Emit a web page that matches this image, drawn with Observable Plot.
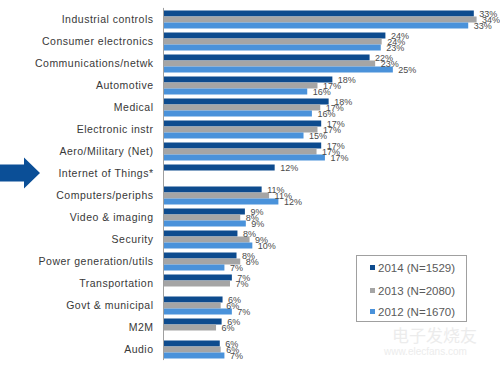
<!DOCTYPE html>
<html>
<head>
<meta charset="utf-8">
<script src="https://cdn.jsdelivr.net/npm/d3@7"></script>
<script src="https://cdn.jsdelivr.net/npm/@observablehq/plot@0.6"></script>
<style>
  html, body { margin: 0; padding: 0; background: #fff; }
  #wrap { position: relative; width: 500px; height: 366px; overflow: hidden; }
  #legend { position: absolute; left: 356px; top: 255px; width: 111px; height: 67px;
            border: 1px solid #a0a0a0; box-sizing: border-box; background: #fff;
            font-family: "Liberation Sans", Arial, sans-serif; font-size: 11.5px; color: #5a5a5a; }
  .item { position: absolute; left: 13px; white-space: nowrap; line-height: 12px; }
  .sw { display: inline-block; width: 5px; height: 5px; margin-right: 3px; vertical-align: 2px; }
  .wm { position: absolute; font-family: "Liberation Sans", Arial, sans-serif; color: #ececec; white-space: nowrap; }
</style>
</head>
<body>
<div id="wrap"></div>
<script>
const categories = ["Industrial controls","Consumer electronics","Communications/netwk","Automotive","Medical","Electronic instr","Aero/Military (Net)","Internet of Things*","Computers/periphs","Video & imaging","Security","Power generation/utils","Transportation","Govt & municipal","M2M","Audio"];
const years = ["2014","2013","2012"];
const yearLabels = ["2014 (N=1529)","2013 (N=2080)","2012 (N=1670)"];
const colors = ["#0d4b8e","#a5a5a5","#4a92da"];
const v2014 = [33.4,23.9,22.2,18.2,17.8,17.0,17.0,12.0,10.6,8.8,8.0,7.9,7.4,6.4,6.3,6.1];
const v2013 = [33.7,23.5,22.8,16.6,16.9,16.6,16.5,null,11.4,8.3,9.3,8.3,7.2,6.2,5.7,6.2];
const v2012 = [32.8,23.4,24.7,15.5,16.0,15.1,17.4,null,12.4,8.9,9.6,6.6,null,7.4,null,6.6];
const highlighted = "Internet of Things*";

const series = [v2014, v2013, v2012];
const data = [];
categories.forEach((c, i) => {
  years.forEach((y, j) => {
    const v = series[j][i];
    if (v != null) data.push({category: c, year: y, value: v});
  });
});

const font = "'Liberation Sans', Arial, sans-serif";
const plot = Plot.plot({
  width: 500,
  height: 366,
  marginLeft: 163,
  marginRight: 2,
  marginTop: 3.5,
  marginBottom: 0.6,
  style: {fontFamily: font, fontSize: "10.5px", color: "#383838", background: "transparent"},
  x: {domain: [0, 36], axis: null},
  y: {domain: years, axis: null, paddingInner: 0.06, paddingOuter: 0},
  fy: {domain: categories, axis: "left", label: null, tickSize: 0, tickPadding: 10,
       paddingInner: 0.18, paddingOuter: 0.09},
  color: {domain: years, range: colors},
  marks: [
    Plot.barX(data, {x: "value", y: "year", fy: "category", fill: "year"}),
    Plot.ruleX([0], {stroke: "#a0a0a0", strokeWidth: 1, insetTop: -2.1, insetBottom: -2.1}),
    Plot.text(data, {x: "value", y: "year", fy: "category",
      text: d => d3.format(".0f")(d.value) + "%", dx: 5, textAnchor: "start",
      fontSize: 9, fill: "#4a4a4a"})
  ]
});
plot.style.overflow = "visible";
const wrap = document.getElementById("wrap");
wrap.appendChild(plot);

// letter spacing for category labels
d3.select(plot).selectAll("[aria-label='fy-axis'] text, [aria-label='fy-axis tick label'] text, g[aria-label^='fy-axis'] text")
  .attr("letter-spacing", "0.5px");

// arrow pointing at the highlighted category, positioned from the fy scale
let cy = null;
try {
  const fy = plot.scale("fy");
  cy = fy.apply(highlighted) + fy.bandwidth / 2;
} catch (e) {}
if (cy == null || isNaN(cy)) {
  d3.select(plot).selectAll("text").each(function() {
    if (this.textContent === highlighted) {
      const b = this.getBBox();
      cy = b.y + b.height / 2;
    }
  });
}
if (cy != null) {
  d3.select(plot).append("path")
    .attr("d", `M0,${cy - 8.5}H24V${cy - 15.5}L40,${cy}L24,${cy + 15.5}V${cy + 8.5}H0Z`)
    .attr("fill", "#0b4f97");
}

// legend
const legend = document.createElement("div");
legend.id = "legend";
const tops = [6, 29, 50];
yearLabels.forEach((t, i) => {
  const it = document.createElement("div");
  it.className = "item";
  it.style.top = tops[i] + "px";
  const sw = document.createElement("span");
  sw.className = "sw";
  sw.style.background = colors[i];
  it.appendChild(sw);
  it.appendChild(document.createTextNode(t));
  legend.appendChild(it);
});
wrap.appendChild(legend);

// faint watermark
const wm1 = document.createElement("div");
wm1.className = "wm";
wm1.style.left = "392px"; wm1.style.top = "322px"; wm1.style.fontSize = "17px";
wm1.style.fontFamily = "'Noto Sans CJK SC', sans-serif";
wm1.textContent = "电子发烧友";
const wm2 = document.createElement("div");
wm2.className = "wm";
wm2.style.left = "384px"; wm2.style.top = "346px"; wm2.style.fontSize = "10px";
wm2.textContent = "www.elecfans.com";
wrap.appendChild(wm1);
wrap.appendChild(wm2);
</script>
</body>
</html>
